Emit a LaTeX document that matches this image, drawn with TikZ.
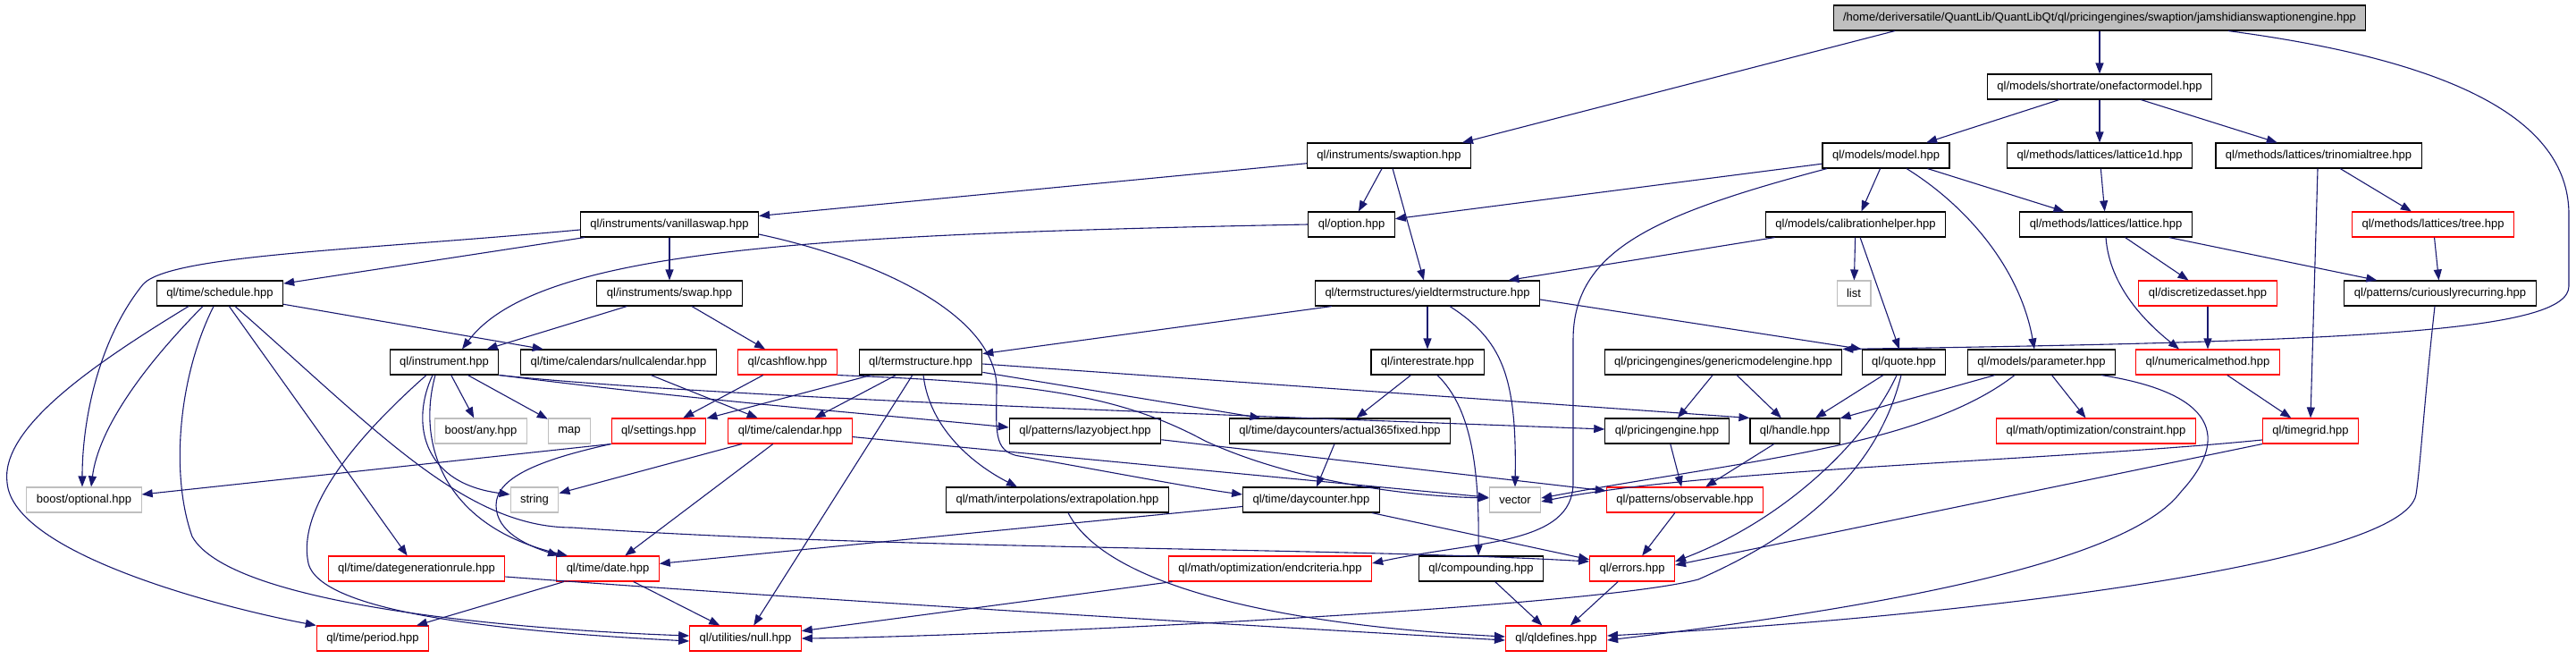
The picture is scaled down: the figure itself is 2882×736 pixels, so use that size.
\documentclass[tikz,border=0pt]{standalone}
\usepackage{fontspec}
\setmainfont{Liberation Sans}
\usepackage{tikz}
\usetikzlibrary{arrows.meta}
\definecolor{edgeblue}{HTML}{191970}
\definecolor{grey75}{HTML}{BFBFBF}

\begin{document}
\begin{tikzpicture}[x=1pt,y=-1pt,
    hdr/.style={draw=black,fill=white,rectangle,minimum height=28pt,inner xsep=11pt,
      inner ysep=0pt,line width=1.1pt,font=\fontsize{13}{15}\selectfont},
    hdrred/.style={hdr,draw=red},
    hdrsys/.style={hdr,draw=grey75},
    incl/.style={edgeblue,line width=1.1pt,-{Triangle[length=12pt,width=9pt]}}]
  \useasboundingbox (0,0) rectangle (2882,736);
  % headers, row by row
  \node[hdr,fill=grey75] (root) at (2349,20) {/home/deriversatile/QuantLib/QuantLibQt/ql/pricingengines/swaption/jamshidianswaptionengine.hpp};
  \node[hdr] (ofm) at (2349,97) {ql/models/shortrate/onefactormodel.hpp};
  \node[hdr] (swaption) at (1554,174) {ql/instruments/swaption.hpp};
  \node[hdr] (model) at (2110,174) {ql/models/model.hpp};
  \node[hdr] (lat1d) at (2349,174) {ql/methods/lattices/lattice1d.hpp};
  \node[hdr] (trinom) at (2594,174) {ql/methods/lattices/trinomialtree.hpp};
  \node[hdr] (vanilla) at (749,251) {ql/instruments/vanillaswap.hpp};
  \node[hdr] (option) at (1512,251) {ql/option.hpp};
  \node[hdr] (calib) at (2076,251) {ql/models/calibrationhelper.hpp};
  \node[hdr] (lattice) at (2356,251) {ql/methods/lattices/lattice.hpp};
  \node[hdrred] (tree) at (2722,251) {ql/methods/lattices/tree.hpp};
  \node[hdr] (schedule) at (246,328) {ql/time/schedule.hpp};
  \node[hdr] (swap) at (749,328) {ql/instruments/swap.hpp};
  \node[hdr] (yts) at (1597,328) {ql/termstructures/yieldtermstructure.hpp};
  \node[hdrsys] (list) at (2074,328) {list};
  \node[hdrred] (discr) at (2470,328) {ql/discretizedasset.hpp};
  \node[hdr] (crtp) at (2730,328) {ql/patterns/curiouslyrecurring.hpp};
  \node[hdr] (instrument) at (497,405) {ql/instrument.hpp};
  \node[hdr] (nullcal) at (692,405) {ql/time/calendars/nullcalendar.hpp};
  \node[hdrred] (cashflow) at (881,405) {ql/cashflow.hpp};
  \node[hdr] (termstr) at (1030,405) {ql/termstructure.hpp};
  \node[hdr] (rate) at (1597,405) {ql/interestrate.hpp};
  \node[hdr] (gme) at (1928,405) {ql/pricingengines/genericmodelengine.hpp};
  \node[hdr] (quote) at (2130,405) {ql/quote.hpp};
  \node[hdr] (param) at (2284,405) {ql/models/parameter.hpp};
  \node[hdrred] (nummeth) at (2470,405) {ql/numericalmethod.hpp};
  \node[hdrsys] (any) at (538,482) {boost/any.hpp};
  \node[hdrsys] (map) at (637,482) {map};
  \node[hdrred] (settings) at (737,482) {ql/settings.hpp};
  \node[hdrred] (calendar) at (884,482) {ql/time/calendar.hpp};
  \node[hdr] (lazy) at (1214,482) {ql/patterns/lazyobject.hpp};
  \node[hdr] (act365) at (1499,482) {ql/time/daycounters/actual365fixed.hpp};
  \node[hdr] (pe) at (1865,482) {ql/pricingengine.hpp};
  \node[hdr] (handle) at (2008,482) {ql/handle.hpp};
  \node[hdrred] (constraint) at (2345,482) {ql/math/optimization/constraint.hpp};
  \node[hdrred] (timegrid) at (2585,482) {ql/timegrid.hpp};
  \node[hdrsys] (optional) at (94,559) {boost/optional.hpp};
  \node[hdrsys] (string) at (598,559) {string};
  \node[hdr] (extrap) at (1183,559) {ql/math/interpolations/extrapolation.hpp};
  \node[hdr] (dc) at (1467,559) {ql/time/daycounter.hpp};
  \node[hdrsys] (vector) at (1695,559) {vector};
  \node[hdrred] (observable) at (1885,559) {ql/patterns/observable.hpp};
  \node[hdrred] (dgr) at (466,636) {ql/time/dategenerationrule.hpp};
  \node[hdrred] (date) at (680,636) {ql/time/date.hpp};
  \node[hdrred] (endcrit) at (1421,636) {ql/math/optimization/endcriteria.hpp};
  \node[hdr] (compounding) at (1657,636) {ql/compounding.hpp};
  \node[hdrred] (errors) at (1826,636) {ql/errors.hpp};
  \node[hdrred] (period) at (417,714) {ql/time/period.hpp};
  \node[hdrred] (null) at (834,714) {ql/utilities/null.hpp};
  \node[hdrred] (qldefines) at (1741,714) {ql/qldefines.hpp};
  % includes
  \draw[incl] (root) -- (ofm);
  \draw[incl] ([xshift=-229]root.south) -- ([xshift=82]swaption.north);
  \draw[incl] ([xshift=144]root.south) .. controls (2760,70) and (2874,140) .. (2874,240) -- (2874,320)
    .. controls (2874,370) and (2650,382) .. (gme.north east);
  \draw[incl] (ofm) -- (model);
  \draw[incl] (ofm) -- (lat1d);
  \draw[incl] (ofm) -- (trinom);
  \draw[incl] (swaption) -- (vanilla);
  \draw[incl] (swaption) -- (option);
  \draw[incl] (swaption) -- (yts);
  \draw[incl] (model) -- (option);
  \draw[incl] ([xshift=-66]model.south) .. controls (1850,240) and (1760,280) .. (1760,380) -- (1760,540)
    .. controls (1760,610) and (1650,605) .. ([yshift=6]endcrit.east);
  \draw[incl] (model) -- (calib);
  \draw[incl] (model) -- (lattice);
  \draw[incl] ([xshift=23]model.south) .. controls (2200,230) and (2260,300) .. ([xshift=-8]param.north);
  \draw[incl] (lat1d) -- (lattice);
  \draw[incl] (trinom) -- (tree);
  \draw[incl] ([xshift=-1]trinom.south) -- (timegrid.north);
  \draw[incl] (vanilla) -- (schedule);
  \draw[incl] (vanilla) -- (swap);
  \draw[incl] ([yshift=-6]vanilla.west) .. controls (400,280) and (190,285) .. (160,318)
    .. controls (110,380) and (92,470) .. ([xshift=-2]optional.north);
  \draw[incl] ([yshift=-11]vanilla.east) .. controls (980,290) and (1110,350) .. (1115,430)
    .. controls (1115,480) and (1110,505) .. (1140,510) .. controls (1200,520) and (1330,545) .. ([yshift=6]dc.west);
  \draw[incl] (option.west) .. controls (900,262) and (600,280) .. ([xshift=20]instrument.north);
  \draw[incl] (calib) -- (yts);
  \draw[incl] (calib) -- (list);
  \draw[incl] (calib) -- (quote);
  \draw[incl] (lattice) -- (discr);
  \draw[incl] (lattice) -- (crtp);
  \draw[incl] (lattice.south) .. controls (2360,320) and (2400,360) .. ([xshift=-32]nummeth.north);
  \draw[incl] (tree) -- (crtp);
  \draw[incl] (discr) -- (nummeth);
  \draw[incl] ([xshift=-6]crtp.south) .. controls (2712,450) and (2708,520) .. (2703,553)
    .. controls (2690,630) and (2200,690) .. ([yshift=3]qldefines.east);
  \draw[incl] ([xshift=67]param.south) .. controls (2480,440) and (2495,490) .. (2440,550)
    .. controls (2380,630) and (2100,680) .. ([yshift=-2]qldefines.east);
  \draw[incl] ([xshift=-35]schedule.south) .. controls (100,410) and (0,480) .. (8,540)
    .. controls (15,620) and (250,680) .. (period.north west);
  \draw[incl] ([xshift=-19]schedule.south) .. controls (160,410) and (110,480) .. ([xshift=8]optional.north);
  \draw[incl] ([xshift=-7]schedule.south) .. controls (200,420) and (190,530) .. (215,600)
    .. controls (260,680) and (600,705) .. ([yshift=3]null.west);
  \draw[incl] (schedule) -- (dgr);
  \draw[incl] ([xshift=17]schedule.south) .. controls (420,480) and (520,590) .. (640,590)
    .. controls (1000,615) and (1500,612) .. ([yshift=8]errors.west);
  \draw[incl] (schedule) -- (nullcal);
  \draw[incl] (swap) -- (instrument);
  \draw[incl] (swap) -- (cashflow);
  \draw[incl] ([xshift=-20]instrument.south) .. controls (420,470) and (330,560) .. (345,630)
    .. controls (360,690) and (600,708) .. ([yshift=-3]null.west);
  \draw[incl] (instrument) -- (any);
  \draw[incl] (instrument) -- (map);
  \draw[incl] ([xshift=-13]instrument.south) .. controls (460,470) and (470,540) .. ([yshift=6]string.west);
  \draw[incl] ([xshift=-10]instrument.south) .. controls (465,500) and (500,590) .. ([xshift=-45]date.north);
  \draw[incl] (instrument.south east) .. controls (800,450) and (1000,465) .. ([yshift=4]lazy.west);
  \draw[incl] (instrument.south east) .. controls (800,445) and (1400,465) .. ([yshift=2]pe.west);
  \draw[incl] (nullcal) -- (calendar);
  \draw[incl] (cashflow) -- (settings);
  \draw[incl] (cashflow.south east) .. controls (1150,428) and (1250,440) .. (1348,493)
    .. controls (1450,540) and (1580,555) .. ([yshift=2]vector.west);
  \draw[incl] (termstr) -- (settings);
  \draw[incl] (termstr) -- (calendar);
  \draw[incl] (termstr) -- (null);
  \draw[incl] ([xshift=3]termstr.south) .. controls (1040,480) and (1090,520) .. ([xshift=-45]extrap.north);
  \draw[incl] (termstr) -- (act365);
  \draw[incl] ([yshift=-2]termstr.east) -- (handle.north west);
  \draw[incl] (yts) -- (termstr);
  \draw[incl] (yts) -- (rate);
  \draw[incl] ([xshift=25]yts.south) .. controls (1680,380) and (1697,420) .. (vector.north);
  \draw[incl] ([yshift=-7]yts.east) -- (quote.north west);
  \draw[incl] (rate) -- (act365);
  \draw[incl] ([xshift=11]rate.south) .. controls (1645,455) and (1655,520) .. ([xshift=-3]compounding.north);
  \draw[incl] (gme) -- (pe);
  \draw[incl] (gme) -- (handle);
  \draw[incl] (quote) -- (handle);
  \draw[incl] ([xshift=-8]quote.south) .. controls (2090,490) and (2000,580) .. ([yshift=8]errors.east);
  \draw[incl] ([xshift=-3]quote.south) .. controls (2100,530) and (2010,600) .. (1900,648)
    .. controls (1780,680) and (1100,712) .. (null.east);
  \draw[incl] (param) -- (handle);
  \draw[incl] (param) -- (constraint);
  \draw[incl] ([xshift=-30]param.south) .. controls (2150,500) and (1950,515) .. ([yshift=2]vector.east);
  \draw[incl] (nummeth) -- (timegrid);
  \draw[incl] ([yshift=-10]timegrid.west) .. controls (2300,515) and (1900,525) .. ([yshift=-2]vector.east);
  \draw[incl] (timegrid.south west) -- ([yshift=4]errors.east);
  \draw[incl] (lazy) -- (observable);
  \draw[incl] (act365) -- (dc);
  \draw[incl] (pe) -- (observable);
  \draw[incl] (handle) -- (observable);
  \draw[incl] (settings.south west) -- ([yshift=6]optional.east);
  \draw[incl] (settings.south west) .. controls (600,515) and (555,535) .. (555,565)
    .. controls (555,595) and (590,610) .. ([xshift=-55]date.north);
  \draw[incl] (calendar) -- (string);
  \draw[incl] (calendar) -- (date);
  \draw[incl] (calendar) -- (vector);
  \draw[incl] ([xshift=12]extrap.south) .. controls (1240,660) and (1450,700) .. ([yshift=2]qldefines.west);
  \draw[incl] (dc) -- (date);
  \draw[incl] (dc) -- (errors);
  \draw[incl] (observable) -- (errors);
  \draw[incl] ([yshift=-9]dgr.east) .. controls (900,670) and (1400,700) .. ([yshift=-2]qldefines.west);
  \draw[incl] (date) -- (period);
  \draw[incl] (date) -- (null);
  \draw[incl] (endcrit) -- (null);
  \draw[incl] (compounding) -- (qldefines);
  \draw[incl] (errors) -- (qldefines);
\end{tikzpicture}
\end{document}
